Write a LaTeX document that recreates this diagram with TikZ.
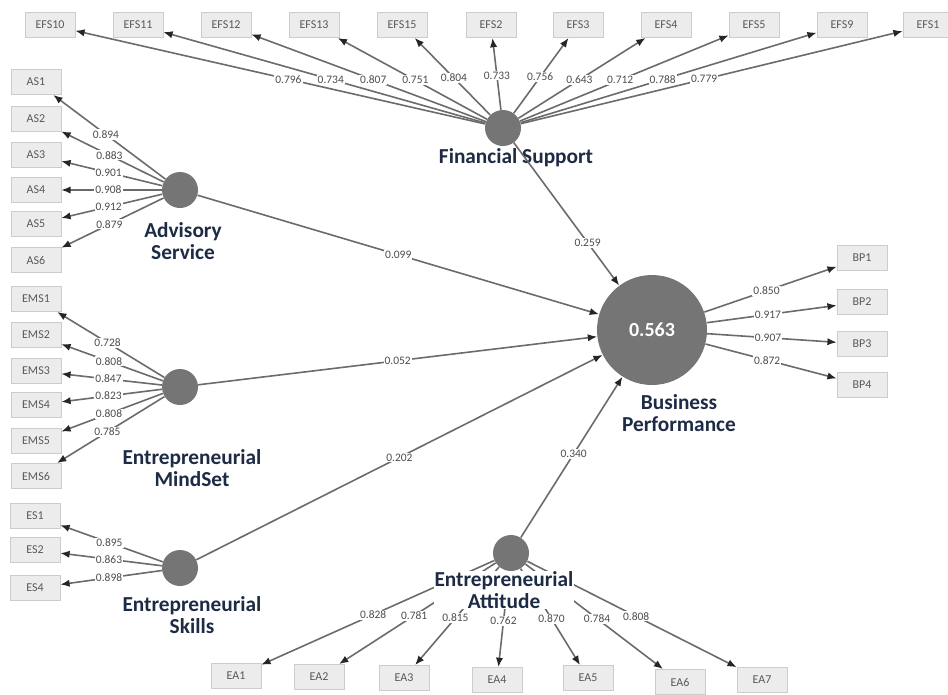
\documentclass[tikz,border=0pt]{standalone}
\usepackage{fontspec}
\setmainfont{Carlito}
\usepackage{tikz}
\usetikzlibrary{arrows.meta}
\definecolor{lvtext}{HTML}{1E2B45}

\tikzset{
  ind/.style={draw=gray!40, fill=gray!15, minimum width=37.5pt, minimum height=19pt,
    inner sep=0pt, font=\fontsize{9}{10}\selectfont, text=black!65},
  lv/.style={circle, fill=black!54, minimum size=27pt, inner sep=0pt},
  lvname/.style={font=\fontsize{16}{16.5}\selectfont\bfseries, text=lvtext, align=center,
    fill=white, inner sep=0.5pt},
  loadarr/.style={draw=black!58, line width=1.2pt, -{Latex[length=7pt,width=5.5pt,color=black!85]}},
  loadlbl/.style={font=\fontsize{8.6}{9}\selectfont, text=black!70, fill=white, inner sep=0.8pt},
}

\begin{document}
\begin{tikzpicture}[x=0.75pt,y=-0.75pt]
\useasboundingbox (0,0) rectangle (948,694);

%latent variables
\node[lv] (FS) at (503,128) {};
\node[lv] (AS) at (180,190) {};
\node[lv] (EMS) at (180,387) {};
\node[lv] (ES) at (180,568) {};
\node[lv] (EA) at (511,553) {};
\node[lv, minimum size=82.5pt, font=\fontsize{15}{16}\selectfont\bfseries, text=white] (BP) at (652,330) {0.563};

%FS
\foreach \i/\x/\l in {10/50/0.796, 11/138/0.734, 12/226/0.807, 13/314/0.751, 15/402/0.804,
    2/491/0.733, 3/578/0.756, 4/666/0.643, 5/754/0.712, 9/842/0.788, 1/928/0.779} {
  \node[ind] (EFS\i) at (\x,25) {EFS\i};
  \draw[loadarr] (FS) -- node[loadlbl,pos=0.48] {\l} (EFS\i);
}

%AS
\foreach \i/\y/\l in {1/82/0.894, 2/119/0.883, 3/155/0.901, 4/190/0.908, 5/224/0.912, 6/260/0.879} {
  \node[ind] (AS\i) at (36,\y) {AS\i};
  \draw[loadarr] (AS) -- node[loadlbl,pos=0.53] {\l} (AS\i);
}

%EMS
\foreach \i/\y/\l in {1/299/0.728, 2/335/0.808, 3/371/0.847, 4/405/0.823, 5/441/0.808, 6/476/0.785} {
  \node[ind] (EMS\i) at (36,\y) {EMS\i};
  \draw[loadarr] (EMS) -- node[loadlbl,pos=0.53] {\l} (EMS\i);
}

%ES
\foreach \i/\y/\l in {1/516/0.895, 2/550/0.863, 4/588/0.898} {
  \node[ind] (ES\i) at (35,\y) {ES\i};
  \draw[loadarr] (ES) -- node[loadlbl,pos=0.52] {\l} (ES\i);
}

%BP
\foreach \i/\y/\l in {1/258/0.850, 2/302/0.917, 3/344/0.907, 4/385/0.872} {
  \node[ind] (BP\i) at (862,\y) {BP\i};
  \draw[loadarr] (BP) -- node[loadlbl,pos=0.47] {\l} (BP\i);
}

%EA
\foreach \i/\x/\y/\l in {1/236/676/0.828, 2/319/677/0.781, 3/404/678/0.815, 4/497/680/0.762,
    5/588/678/0.870, 6/680/682/0.784, 7/762/680/0.808} {
  \node[ind] (EA\i) at (\x,\y) {EA\i};
  \draw[loadarr] (EA) -- node[loadlbl,pos=0.52] {\l} (EA\i);
}

%names
\node[lvname] (FSname) at (516,158) {Financial Support};
\node[lvname] (ASname) at (183,241) {Advisory\\Service};
\node[lvname] (EMSname) at (192,468) {Entrepreneurial\\MindSet};
\node[lvname] (ESname) at (192,615) {Entrepreneurial\\Skills};
\node[lvname] (EAname) at (504,590) {Entrepreneurial\\Attitude};
\node[lvname] (BPname) at (679,413) {Business\\Performance};

%paths
\draw[loadarr] (FS) -- node[loadlbl,pos=0.7] {0.259} (BP);
\draw[loadarr] (AS) -- node[loadlbl,pos=0.5] {0.099} (BP);
\draw[loadarr] (EMS) -- node[loadlbl,pos=0.5] {0.052} (BP);
\draw[loadarr] (ES) -- node[loadlbl,pos=0.5] {0.202} (BP);
\draw[loadarr] (EA) -- node[loadlbl,pos=0.52] {0.340} (BP);

\end{tikzpicture}
\end{document}
